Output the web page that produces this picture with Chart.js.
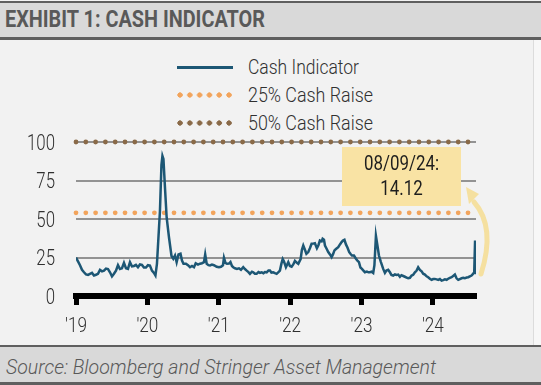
<!DOCTYPE html>
<html><head><meta charset="utf-8">
<script src="https://cdn.jsdelivr.net/npm/chart.js@4.4.1/dist/chart.umd.min.js"></script>
<style>
html,body{margin:0;padding:0;}
body{width:541px;height:385px;position:relative;overflow:hidden;background:#f2f2f2;font-family:Roboto,'Liberation Sans',sans-serif;}
#titlebar{position:absolute;left:0;top:1px;width:541px;height:34px;background:#d9d9d9;border-top:2px solid #5f5f5f;border-bottom:3px solid #5f5f5f;}
#srcbar{position:absolute;left:0;top:345px;width:541px;height:35px;background:#d9d9d9;border-top:2px solid #5f5f5f;border-bottom:3px solid #5f5f5f;}
#rightstrip{position:absolute;left:533px;top:40px;width:8px;height:305px;background:#f7f7f7;border-left:1px solid #dcdcdc;}
.fit{position:absolute;white-space:nowrap;transform-origin:0 50%;display:inline-block;}
#title{font-weight:700;font-size:23px;line-height:24px;color:#595959;left:5px;top:8px;}
#source{font-style:italic;font-weight:300;font-size:21px;line-height:24px;color:#595959;left:6px;top:355px;}
.lgtxt{font-weight:300;font-size:21px;line-height:24px;color:#303030;left:248px;}
.sym{position:absolute;left:177px;width:56px;}
#c{position:absolute;left:0;top:0;}
</style></head>
<body>
<div id="titlebar"></div>
<span id="title" class="fit" data-w="260">EXHIBIT 1: CASH INDICATOR</span>
<div id="rightstrip"></div>
<div id="legend"></div>
<div id="srcbar"></div>
<span id="source" class="fit" data-w="430">Source: Bloomberg and Stringer Asset Management</span>
<canvas id="c" width="541" height="385"></canvas>
<script>
// ---- data ----
const dates = [
2019.000,2019.028,2019.056,2019.084,2019.112,2019.140,2019.168,2019.196,2019.224,2019.252,2019.280,2019.308,2019.336,2019.364,2019.392,2019.420,2019.448,2019.476,2019.504,2019.532,2019.560,2019.588,2019.616,2019.644,2019.672,2019.700,2019.728,2019.756,2019.784,2019.812,2019.840,2019.868,2019.896,2019.924,2019.952,2019.980,
2020.008,2020.036,2020.064,2020.092,2020.113,2020.134,2020.155,2020.176,2020.197,2020.211,2020.225,2020.247,2020.270,2020.303,2020.338,2020.363,2020.387,2020.410,2020.436,2020.464,2020.485,2020.506,2020.541,2020.569,2020.597,2020.625,2020.653,2020.677,2020.709,2020.737,2020.765,2020.793,2020.810,2020.831,2020.856,2020.877,2020.905,2020.933,2020.971,
2021.003,2021.031,2021.059,2021.073,2021.094,2021.115,2021.143,2021.164,2021.185,2021.203,2021.227,2021.255,2021.283,2021.311,2021.343,2021.367,2021.391,2021.416,2021.437,2021.465,2021.483,2021.507,2021.531,2021.556,2021.577,2021.601,2021.626,2021.647,2021.671,2021.696,2021.717,2021.738,2021.763,2021.787,2021.811,2021.836,2021.857,2021.878,2021.896,2021.913,2021.941,2021.974,2021.997,
2022.021,2022.044,2022.067,2022.095,2022.114,2022.147,2022.165,2022.184,2022.207,2022.228,2022.254,2022.277,2022.301,2022.324,2022.347,2022.375,2022.396,2022.417,2022.441,2022.455,2022.474,2022.488,2022.511,2022.534,2022.558,2022.581,2022.600,2022.621,2022.642,2022.674,2022.698,2022.721,2022.740,2022.761,2022.782,2022.803,2022.828,2022.845,2022.866,2022.894,2022.922,2022.943,2022.964,2022.985,
2023.006,2023.027,2023.048,2023.076,2023.097,2023.118,2023.142,2023.164,2023.181,2023.202,2023.223,2023.244,2023.272,2023.304,2023.328,2023.349,2023.374,2023.398,2023.419,2023.444,2023.468,2023.492,2023.514,2023.538,2023.559,2023.584,2023.608,2023.632,2023.654,2023.678,2023.702,2023.724,2023.748,2023.772,2023.794,2023.818,2023.842,2023.864,2023.888,2023.912,2023.934,2023.958,2023.982,
2024.004,2024.028,2024.052,2024.074,2024.098,2024.122,2024.144,2024.168,2024.192,2024.214,2024.238,2024.262,2024.284,2024.308,2024.332,2024.355,2024.378,2024.402,2024.425,2024.448,2024.472,2024.495,2024.518,2024.542,2024.565,2024.579,2024.591,2024.604
];
const cashIndicator = [
25.0,22.5,20,17,15.4,14,13.7,14.4,15,13.3,13.8,14.4,17,16,16.5,17.8,17.5,15.4,12.8,14.5,16.5,20,17.5,18,21.5,18,17.6,22,19.3,19.5,20.2,18.7,20.5,20.2,18.5,18.5,
20,19.8,16.5,15,13.3,20.9,38,55,85,91,89,70,51,38,26,24.2,26.3,22,27,27.5,23,20.9,21,20,18.7,19.5,18.7,21.3,20.4,21,21.3,22,27,20.9,20,19.8,20.4,20,19,
18.7,19,20,24.8,21.5,20.9,21,22,19.5,18.7,18,17.6,18,17,18.7,17.5,16.5,15.5,14.4,15.8,15.4,14.5,14.4,15.6,15,15.4,14.8,15.6,15.4,16.5,16.5,15.2,15.4,14.8,14.4,15.5,16.5,21,24,22.5,18.7,22,19.5,
19,20.5,22.8,21.5,20.9,24,30,32.8,30,27.4,28.5,31,33.9,34,34.3,31,33,36,35.5,37.2,36.5,32.8,30.7,28.5,27,25.2,27,29.6,30.5,31.7,33.5,35,36,36.5,33.5,31.5,28.5,27.4,26.3,26.3,24.2,23,22,18.5,
17.6,16.5,15.4,15.8,15.4,15.4,15.8,15,20,39,32.8,26.3,22,17.6,15,16.5,17,15.4,13.7,13.3,14,13.7,13.9,12.5,13.5,13,12.5,12,11.5,11.8,13.3,13.8,15.4,16.5,18.7,17,16,14.5,13.9,12.8,12.2,11.2,10.5,
11,11.1,10.8,10.5,11,10,10.3,10.8,10.5,11.2,11.8,12.2,13,13.9,11.5,10.5,11,11.5,11.8,11.5,12,12.2,12.8,13.3,14.5,15.4,36,14.12
];
const seriesNames = ['Cash Indicator','25% Cash Raise','50% Cash Raise'];
const raiseLevels = [54, 100];          // 25% and 50% cash-raise thresholds
const yearTicks = [2019,2020,2021,2022,2023,2024];
const yearLabels = ["'19","'20","'21","'22","'23","'24"];
const valueTicks = [0,25,50,75,100];
const calloutDate = '08/09/24:';
const calloutValue = '14.12';

// ---- styles ----
const FONT = "Roboto, 'Liberation Sans', sans-serif";
const colors = ['#1d5775','#f2a45c','#8a6a48'];

// legend (HTML text)
const lgCenters = [67, 94.5, 122.5];
const lgWidths = [111, 125, 125];
const lg = document.getElementById('legend');
seriesNames.forEach((n,i)=>{
  const s=document.createElement('div'); s.className='sym';
  if(i===0){ s.style.top=(lgCenters[i]-1.5)+'px'; s.style.height='3px'; s.style.background=colors[0]; }
  else { s.style.top=(lgCenters[i]-3)+'px'; s.style.height='6px';
    s.style.background=`radial-gradient(circle at 3px 3px, ${colors[i]} 2.4px, transparent 2.9px) 0 0/9.8px 6px repeat-x`; }
  const t=document.createElement('span'); t.className='fit lgtxt'; t.textContent=n;
  t.style.top=(lgCenters[i]-12)+'px'; t.dataset.w=lgWidths[i];
  lg.appendChild(s); lg.appendChild(t);
});
document.querySelectorAll('.fit').forEach(el=>{
  const w = el.getBoundingClientRect().width;
  el.style.transform = `scaleX(${(+el.dataset.w)/w})`;
});

const xMin = dates[0], xMax = dates[dates.length-1];
const linePts = dates.map((d,i)=>({x:d,y:cashIndicator[i]}));
const levelPts = v => [{x:xMin,y:v},{x:xMax,y:v}];

function squeezeText(ctx, txt, x, y, sx, align){
  ctx.save(); ctx.translate(x,y); ctx.scale(sx,1); ctx.textAlign=align; ctx.fillText(txt,0,0); ctx.restore();
}

const axisLabels = {
  id:'axisLabels',
  afterDraw(chart){
    const {ctx, chartArea:a, scales:{x,y}} = chart;
    ctx.save();
    ctx.fillStyle='#303030'; ctx.textBaseline='alphabetic';
    ctx.font = `300 22px ${FONT}`;
    const sy = 28/ctx.measureText('100').width;
    valueTicks.forEach(v=> squeezeText(ctx, String(v), a.left-21, y.getPixelForValue(v)+7.8, sy, 'right'));
    ctx.font = `300 21px ${FONT}`;
    const sx = 22/ctx.measureText(yearLabels[0]).width;
    yearTicks.forEach((v,i)=> squeezeText(ctx, yearLabels[i], x.getPixelForValue(v), a.bottom+35.5, sx, 'center'));
    ctx.restore();
  }
};

const callout = {
  id:'callout',
  afterDatasetsDraw(chart){
    const {ctx, chartArea:a} = chart;
    const right = a.right - 15, left = right - 119, top = a.top + 5, h = 59;
    ctx.save();
    ctx.fillStyle = '#f9e3a4';
    ctx.fillRect(left, top, right-left, h);
    ctx.fillStyle = '#1e1e1e';
    ctx.font = `21px ${FONT}`;
    ctx.textBaseline='alphabetic';
    const s = 75/ctx.measureText(calloutDate).width;
    squeezeText(ctx, calloutDate, (left+right)/2, top+15.8+7.5, s, 'center');
    squeezeText(ctx, calloutValue, (left+right)/2, top+40.3+7.5, s, 'center');
    // arrow
    ctx.strokeStyle = '#f5e0a0'; ctx.fillStyle='#f5e0a0';
    ctx.lineWidth = 5; ctx.lineCap='round';
    const sx = a.right + 5, sy = a.bottom - 22;
    const ex = a.right - 2, ey = top + 55;
    ctx.beginPath(); ctx.moveTo(sx, sy);
    ctx.quadraticCurveTo(a.right + 20, top + 80, ex, ey);
    ctx.stroke();
    ctx.beginPath();
    ctx.moveTo(a.right - 10, top + 40);
    ctx.lineTo(a.right + 3, top + 47);
    ctx.lineTo(a.right - 7, top + 57);
    ctx.closePath(); ctx.fill();
    ctx.restore();
  }
};

new Chart(document.getElementById('c'), {
  type:'line',
  data:{ datasets:[
    {label:seriesNames[0], data:linePts, borderColor:colors[0], borderWidth:2.5, pointRadius:0, tension:0, order:1},
    {label:seriesNames[1], data:levelPts(raiseLevels[0]), borderColor:colors[1], borderWidth:4.8, borderDash:[0,9.8], borderCapStyle:'round', pointRadius:0, clip:false, order:2},
    {label:seriesNames[2], data:levelPts(raiseLevels[1]), borderColor:colors[2], borderWidth:4.8, borderDash:[0,9.8], borderCapStyle:'round', pointRadius:0, clip:false, order:2}
  ]},
  options:{
    responsive:false, animation:false, devicePixelRatio:1,
    layout:{padding:{left:0,right:65,top:142,bottom:0}},
    plugins:{legend:{display:false}, tooltip:{enabled:false}},
    scales:{
      x:{type:'linear', min:xMin, max:xMax,
        afterBuildTicks:s=>{s.ticks=yearTicks.map(v=>({value:v}));},
        afterFit:s=>{s.height=89;},
        ticks:{display:false},
        grid:{drawOnChartArea:false, drawTicks:true, tickLength:9, tickWidth:5, tickColor:'#000'},
        border:{display:true, width:6, color:'#000'}
      },
      y:{min:0,max:100,
        afterBuildTicks:s=>{s.ticks=valueTicks.map(v=>({value:v}));},
        afterFit:s=>{s.width=76;},
        ticks:{display:false},
        grid:{drawTicks:false, color:'#939393', lineWidth:2},
        border:{display:false}
      }
    }
  },
  plugins:[callout, axisLabels]
});
</script>
</body></html>
